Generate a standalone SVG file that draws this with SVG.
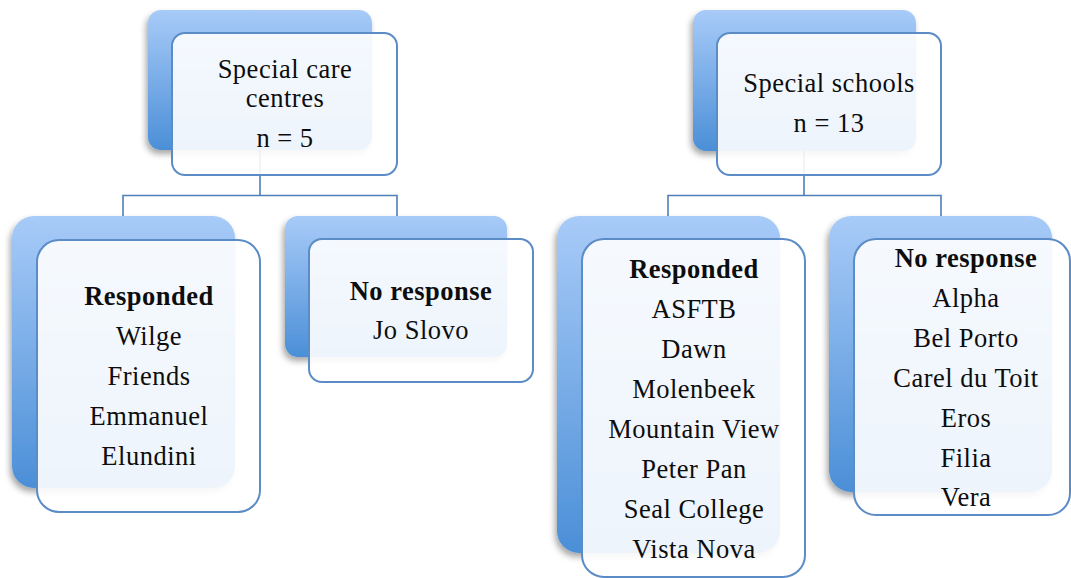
<svg xmlns="http://www.w3.org/2000/svg" width="1071" height="578" viewBox="0 0 1071 578">
<defs>
<linearGradient id="g" x1="0" y1="0" x2="0" y2="1">
<stop offset="0" stop-color="#a8cbf8"/>
<stop offset="1" stop-color="#4b8fd7"/>
</linearGradient>
<filter id="sh" x="-20%" y="-20%" width="140%" height="140%">
<feDropShadow dx="-2" dy="4" stdDeviation="3" flood-color="#000" flood-opacity="0.35"/>
</filter>
</defs>
<style>
.back{fill:url(#g);filter:url(#sh)}
.front{fill:#fff;fill-opacity:0.9;stroke:#5b8cc6;stroke-width:2}
.conn{fill:none;stroke:#4f7fb8;stroke-width:1.6}
text{font-family:"Liberation Serif","Times New Roman",serif;font-size:26.5px;fill:#0d0d0d;text-anchor:middle;letter-spacing:0.5px}
.b{font-weight:bold}
</style>
<rect width="1071" height="578" fill="#fff"/>
<g id="connectors">
<path class="conn" d="M260,150 V195.5 M123,216 V195.5 H397 V216"/>
<path class="conn" d="M804,150 V195.5 M668,216 V195.5 H941 V216"/>
</g>
<g id="special-care-centres">
<rect class="back" x="148" y="10" width="224" height="140" rx="13"/>
<rect class="front" x="172" y="33" width="225" height="142" rx="13"/>
<text x="285" y="78">Special care</text>
<text x="285" y="107">centres</text>
<text x="285" y="147">n = 5</text>
</g>
<g id="scc-responded">
<rect class="back" x="12" y="216" width="223" height="272" rx="22"/>
<rect class="front" x="37" y="240" width="223" height="272" rx="22"/>
<text class="b" x="149" y="305">Responded</text>
<text x="149" y="345">Wilge</text>
<text x="149" y="385">Friends</text>
<text x="149" y="425">Emmanuel</text>
<text x="149" y="465">Elundini</text>
</g>
<g id="scc-no-response">
<rect class="back" x="285" y="216" width="222" height="141" rx="13"/>
<rect class="front" x="309" y="239" width="224" height="143" rx="13"/>
<text class="b" x="421" y="300">No response</text>
<text x="421" y="339">Jo Slovo</text>
</g>
<g id="special-schools">
<rect class="back" x="693" y="10" width="223" height="141" rx="13"/>
<rect class="front" x="717" y="33" width="224" height="142" rx="13"/>
<text x="829" y="92">Special schools</text>
<text x="829" y="132">n = 13</text>
</g>
<g id="ss-responded">
<rect class="back" x="557" y="216" width="223" height="337" rx="22"/>
<rect class="front" x="582" y="239" width="223" height="338" rx="22"/>
<text class="b" x="694" y="278">Responded</text>
<text x="694" y="318">ASFTB</text>
<text x="694" y="358">Dawn</text>
<text x="694" y="398">Molenbeek</text>
<text x="694" y="438">Mountain View</text>
<text x="694" y="478">Peter Pan</text>
<text x="694" y="518">Seal College</text>
<text x="694" y="558">Vista Nova</text>
</g>
<g id="ss-no-response">
<rect class="back" x="829" y="216" width="223" height="276" rx="22"/>
<rect class="front" x="854" y="239" width="216" height="276" rx="22"/>
<text class="b" x="966" y="267">No response</text>
<text x="966" y="307">Alpha</text>
<text x="966" y="347">Bel Porto</text>
<text x="966" y="387">Carel du Toit</text>
<text x="966" y="427">Eros</text>
<text x="966" y="467">Filia</text>
<text x="966" y="506">Vera</text>
</g>
</svg>
